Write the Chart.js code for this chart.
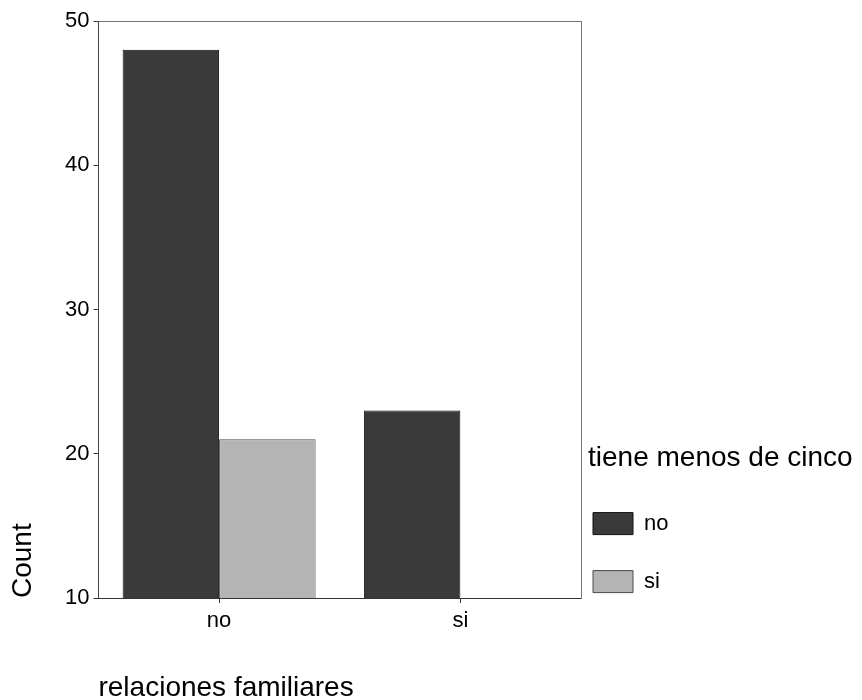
<!DOCTYPE html>
<html>
<head>
<meta charset="utf-8">
<script src="https://cdn.jsdelivr.net/npm/chart.js@4"></script>
<style>
html,body{margin:0;padding:0;background:#fff;}
#wrap{width:862px;height:700px;}
</style>
</head>
<body>
<div id="wrap"><canvas id="c" width="862" height="700"></canvas></div>
<script>
// ---- data ----
const categories = ['no', 'si'];
const seriesNames = ['no', 'si'];
const seriesNo = [48, 23];
const seriesSi = [21, 8];
const yTicks = [10, 20, 30, 40, 50];
const xTitle = 'relaciones familiares';
const yTitle = 'Count';
const legendTitle = 'tiene menos de cinco';

const FONT = "'Liberation Sans', Arial, Helvetica, sans-serif";
const colors = ['#3a3a3a', '#b4b4b4'];
const borders = ['#111111', '#4a4a4a'];
const LEGEND_WIDTH = 274;

const datasets = [seriesNo, seriesSi].map((vals, i) => ({
  label: seriesNames[i],
  data: vals,
  backgroundColor: colors[i],
  borderColor: borders[i],
  borderWidth: 1,
  categoryPercentage: 0.8,
  barPercentage: 1.0,
  xAxisID: 'x',
  yAxisID: 'y'
}));

// widen the legend box so its title is not clipped
const legendWidthPlugin = {
  id: 'legendWidth',
  afterInit(chart) {
    const lg = chart.legend;
    if (!lg) return;
    const orig = lg.fit.bind(lg);
    lg.fit = function () { orig(); this.width = Math.max(this.width, LEGEND_WIDTH); };
  }
};

new Chart(document.getElementById('c'), {
  type: 'bar',
  data: { labels: categories, datasets },
  plugins: [legendWidthPlugin],
  options: {
    responsive: false,
    animation: false,
    devicePixelRatio: 1,
    layout: { padding: { top: 21, right: 0, bottom: 71.4, left: 0 } },
    plugins: {
      tooltip: { enabled: false },
      legend: {
        position: 'right',
        align: 'end',
        fullSize: true,
        title: {
          display: true,
          text: legendTitle,
          position: 'start',
          color: '#000',
          padding: 30,
          font: { family: FONT, size: 28, lineHeight: 1.2 }
        },
        labels: {
          color: '#000',
          boxWidth: 40,
          boxHeight: 22,
          padding: 5,
          font: { family: FONT, size: 22, lineHeight: 26.5 / 22 },
          generateLabels(chart) {
            const items = Chart.defaults.plugins.legend.labels.generateLabels(chart);
            return items.map(it => Object.assign(it, { text: [it.text, ''] }));
          }
        }
      }
    },
    scales: {
      x: {
        type: 'category',
        position: 'bottom',
        offset: true,
        grid: { display: true, offset: false, drawOnChartArea: false, drawTicks: true, tickLength: 5, color: '#333' },
        border: { display: true, color: '#333', width: 1 },
        ticks: { color: '#000', padding: 5, font: { family: FONT, size: 22, lineHeight: 1.2 } },
        title: {
          display: true, text: xTitle, align: 'start', color: '#000',
          font: { family: FONT, size: 28, lineHeight: 1.0 },
          padding: { top: 34.6, bottom: -73.4 }
        }
      },
      x2: {
        type: 'category',
        position: 'top',
        display: true,
        grid: { display: false },
        ticks: { display: false },
        border: { display: true, color: '#777', width: 1 },
        afterFit(s) { s.height = 0; }
      },
      y: {
        type: 'linear',
        position: 'left',
        min: yTicks[0],
        max: yTicks[yTicks.length - 1],
        afterBuildTicks(s) { s.ticks = yTicks.map(v => ({ value: v })); },
        grid: { display: true, drawOnChartArea: false, drawTicks: true, tickLength: 5, color: '#333' },
        border: { display: true, color: '#444', width: 1 },
        ticks: { color: '#000', padding: 4, font: { family: FONT, size: 22, lineHeight: 1.2 } },
        title: {
          display: true, text: yTitle, align: 'start', color: '#000',
          font: { family: FONT, size: 28, lineHeight: 1.0 },
          padding: { top: 9, bottom: 24 }
        }
      },
      y2: {
        type: 'linear',
        position: 'right',
        display: true,
        min: yTicks[0],
        max: yTicks[yTicks.length - 1],
        grid: { display: false },
        ticks: { display: false },
        border: { display: true, color: '#777', width: 1 },
        afterFit(s) { s.width = 7; }
      }
    }
  }
});
</script>
</body>
</html>
